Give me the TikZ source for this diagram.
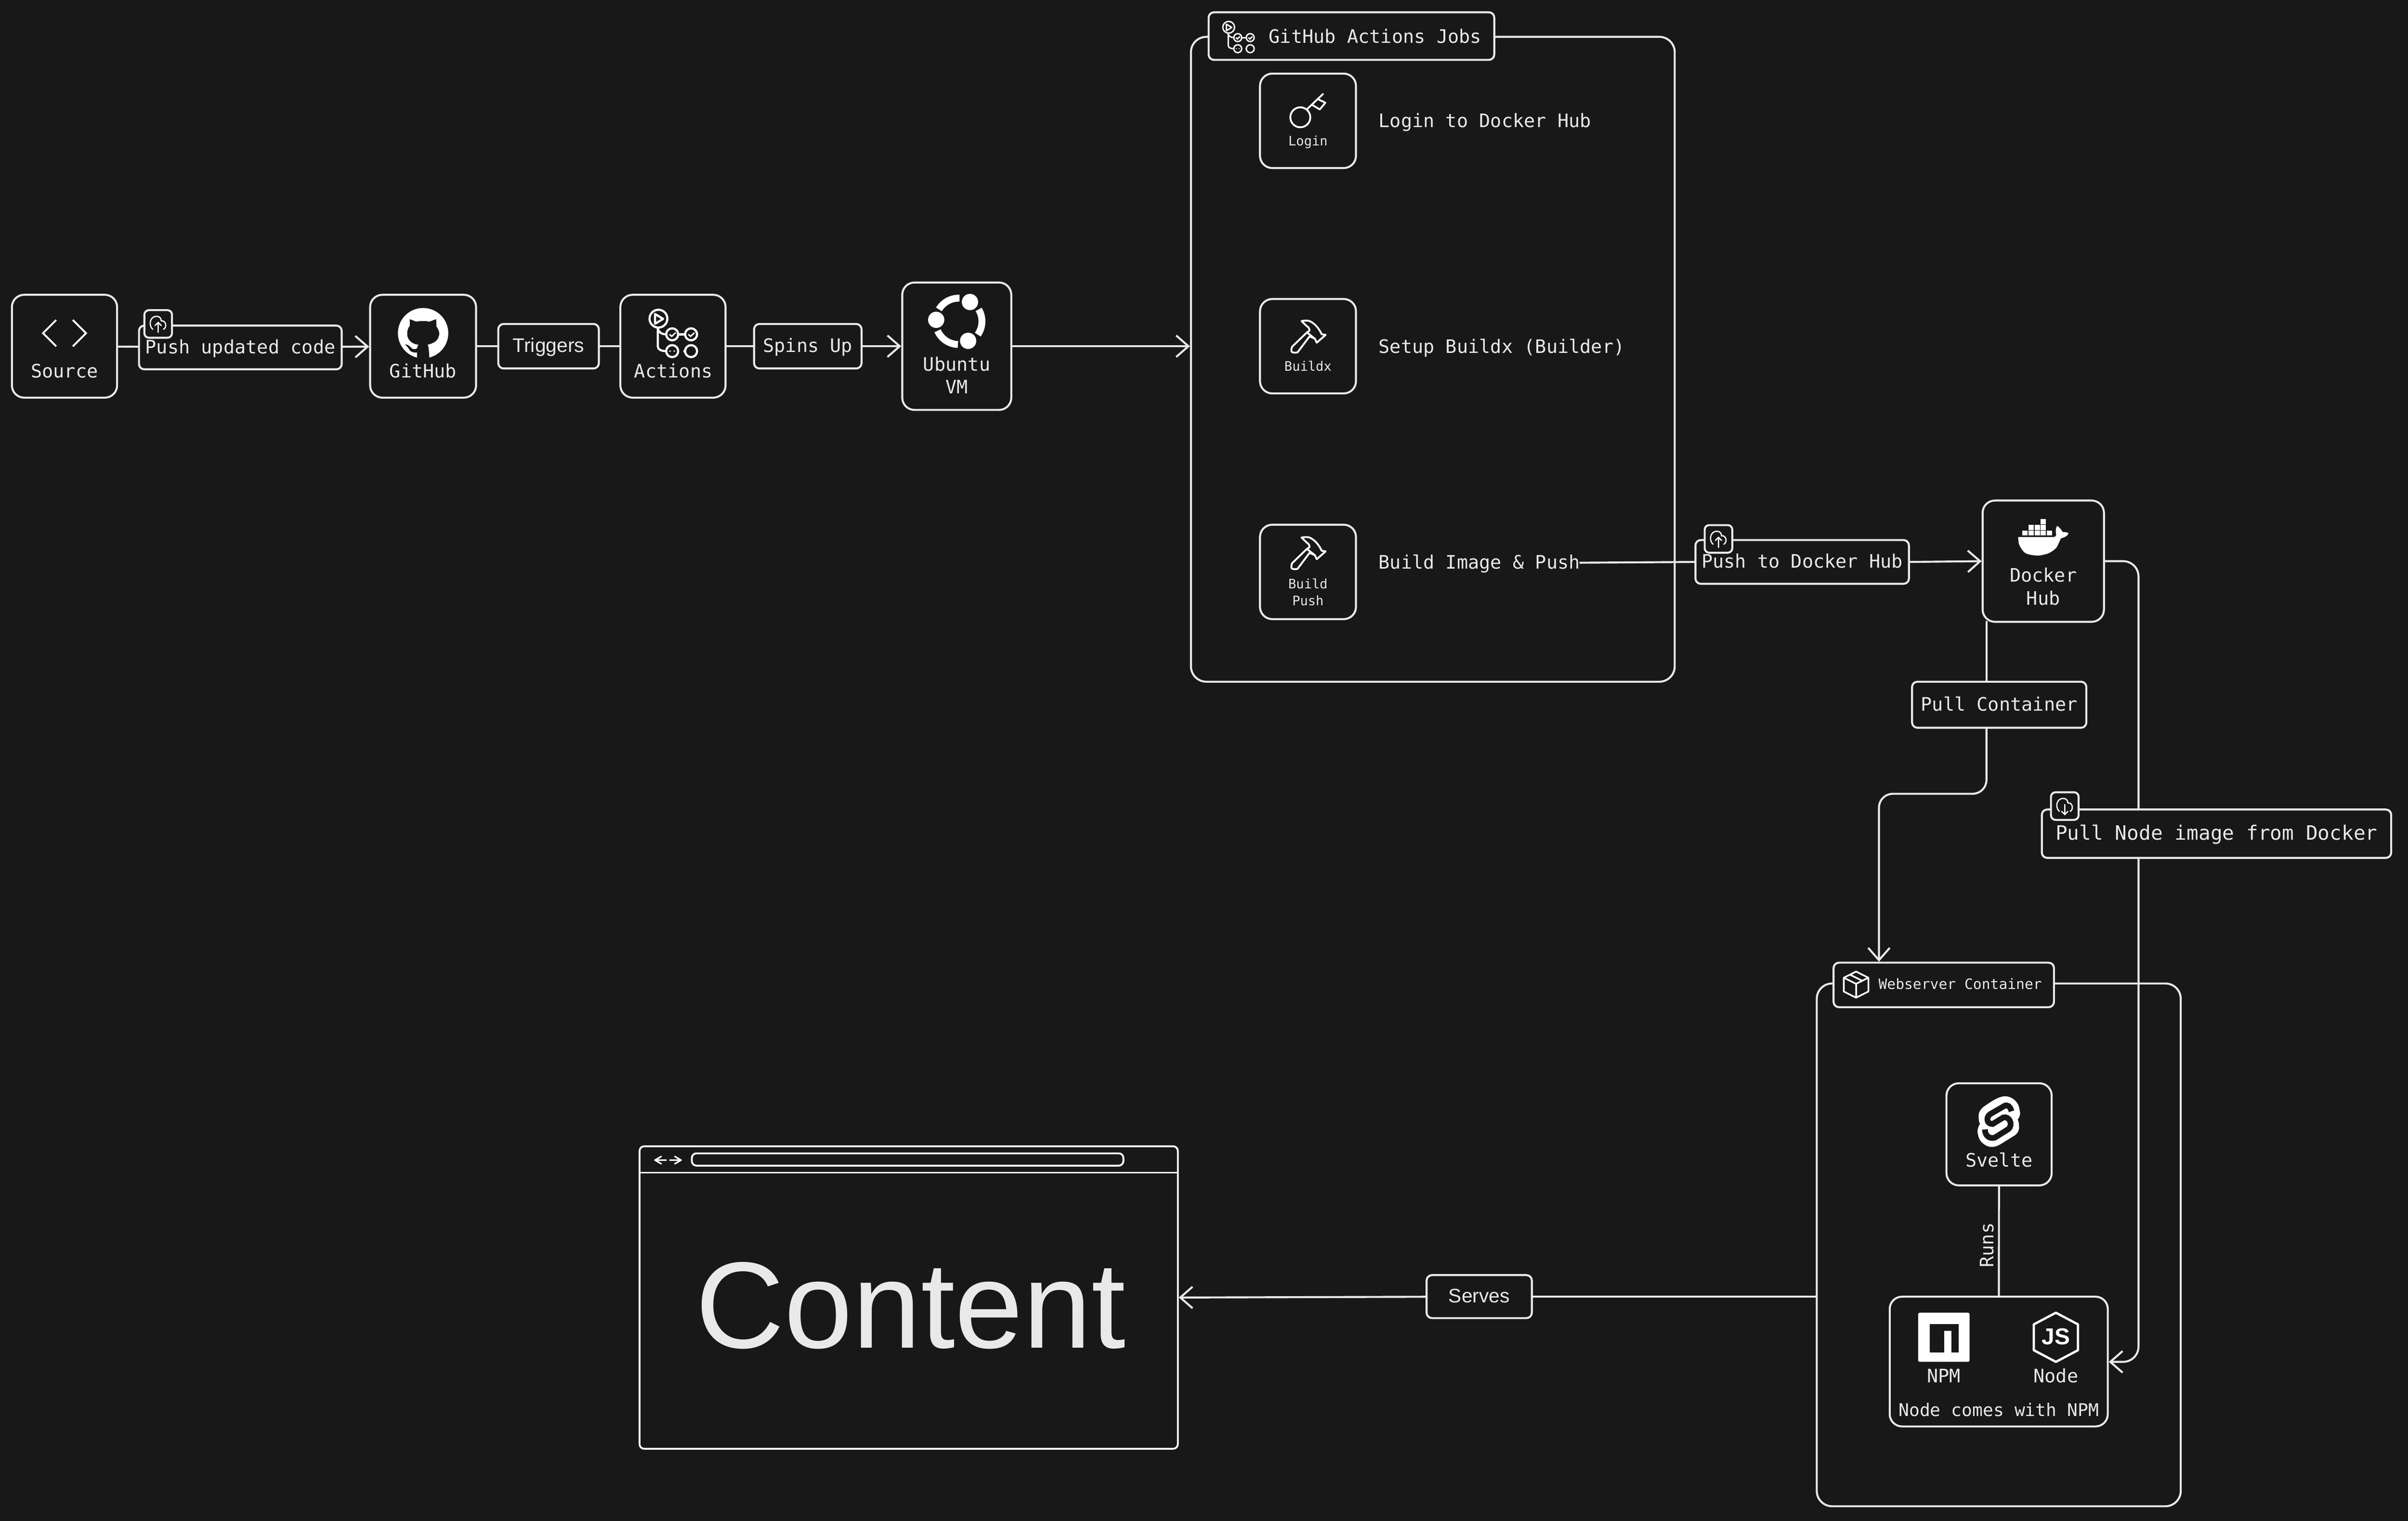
\documentclass[tikz,border=0pt]{standalone}
\usepackage{fontspec}
\usetikzlibrary{arrows.meta}
\newfontfamily\monotype{DejaVu Sans Mono}
\newfontfamily\plainsans{Liberation Sans}
\definecolor{canvas}{HTML}{181818}
\definecolor{chalk}{HTML}{E9E9E9}

\begin{document}
\begin{tikzpicture}[x=1pt,y=-1pt]
		\tikzset{card/.style = {draw=chalk, fill=canvas, line width=1.3pt, rounded corners=8pt, inner sep=0pt}}
		\tikzset{groupbox/.style = {draw=chalk, fill=canvas, line width=1.3pt, rounded corners=10pt, inner sep=0pt}}
		\tikzset{chip/.style = {draw=chalk, fill=canvas, line width=1.3pt, rounded corners=3.5pt, inner sep=0pt, text=chalk, text height=10.5pt, text depth=2.5pt, font=\fontsize{12.1}{15}\monotype}}
		\tikzset{badge/.style = {draw=chalk, fill=canvas, line width=1.3pt, rounded corners=3pt, inner sep=0pt, minimum width=18pt, minimum height=18pt}}
		\tikzset{caption/.style = {text=chalk, inner sep=0pt, align=center, text height=10.5pt, text depth=2.5pt, font=\fontsize{12.1}{15}\monotype}}
		\tikzset{tinycaption/.style = {caption, text height=6.5pt, text depth=2pt, font=\fontsize{8.5}{11}\monotype}}
		\tikzset{link/.style = {draw=chalk, line width=1.3pt, line cap=round}}
		\tikzset{edge/.style = {link, -{Straight Barb[length=8pt,width=14pt]}}}

		% icons, drawn round their own centre
		\tikzset{codeicon/.pic = {
			\draw[white, line width=1.2pt] (-5.4,-8.6) -- (-14,0) -- (-5.4,8.6);
			\draw[white, line width=1.2pt] (5.4,-8.6) -- (14,0) -- (5.4,8.6);
		}}
		\tikzset{cloudup/.pic = {
			\draw[white, line width=.8pt, line cap=round] (-3.5,3.5) .. controls (-6.5,1) and (-5.5,-5) .. (-1,-5) .. controls (1,-5) and (2,-3.5) .. (2,-2) .. controls (5,-2.5) and (6,2) .. (3.5,3.5);
			\draw[white, line width=.8pt, line cap=round] (0,5.5) -- (0,-1) (-2,1) -- (0,-1) -- (2,1);
		}}
		\tikzset{clouddown/.pic = {
			\draw[white, line width=.8pt, line cap=round] (-3.5,3.5) .. controls (-6.5,1) and (-5.5,-5) .. (-1,-5) .. controls (1,-5) and (2,-3.5) .. (2,-2) .. controls (5,-2.5) and (6,2) .. (3.5,3.5);
			\draw[white, line width=.8pt, line cap=round] (0,-1) -- (0,5.5) (-2,3.5) -- (0,5.5) -- (2,3.5);
		}}
		\tikzset{octocat/.pic = {
			\fill[white] (0,0) circle[radius=16.4];
			\fill[canvas] (-8.7,-9.1) -- (-4.5,-7.5) .. controls (-2,-8) and (2,-8) .. (4.1,-7.5) -- (8.5,-9.1) -- (8.7,-4.3) .. controls (10.5,-2) and (11,1) .. (10.1,2.1) .. controls (9.5,5) and (7,6.5) .. (3,7.5) .. controls (3.5,9) and (3.8,10) .. (4.1,16.8) -- (-3.9,16.8) -- (-3.9,12.6) .. controls (-6.5,12.8) and (-8,12) .. (-8.8,11) .. controls (-9.5,9.5) and (-10.5,8.5) .. (-11.8,7.4) .. controls (-9.8,7) and (-8.5,9) .. (-6.8,10.3) .. controls (-5.8,10.6) and (-4.6,10.4) .. (-3.9,9.8) .. controls (-3.7,9) and (-3.4,8) .. (-3,7.5) .. controls (-6,7.3) and (-9,5.5) .. (-10,2.6) .. controls (-10.6,1) and (-10.6,-2.5) .. (-8.7,-4.7) -- cycle;
		}}
		\tikzset{actionsicon/.pic = {
			\draw[white] (-9.75,-9.45) circle[radius=5.8];
			\draw[white, line join=round] (-12,-12.5) -- (-12,-6.1) -- (-6.7,-9.3) -- cycle;
			\foreach \cx/\cy in {-.8/.75, 11.5/.75, -.8/11.7, 11.5/11.7}
				\draw[white] (\cx,\cy) circle[radius=3.9];
			\draw[white] (-10.2,-3.6) -- (-10.2,8.5) .. controls (-10.2,10.5) and (-8,11.7) .. (-4.7,11.7);
			\draw[white] (-10.2,-3) .. controls (-9.8,-1) and (-8,.75) .. (-4.7,.75);
			\draw[white] (3.1,.75) -- (7.6,.75) (6.6,11.7) -- (7.6,11.7);
			\foreach \cx in {-.8, 11.5}
				\draw[white, line width=.9pt] (\cx-1.8,.75) -- (\cx-.3,2.1) -- (\cx+2.2,-.35);
			\fill[white] (-2.2,11.7) circle[radius=.6] (.55,11.7) circle[radius=.6];
		}}
		\tikzset{ubuntuicon/.pic = {
			\foreach \from/\to in {-31/35, 92/156, 211/272}
				\draw[white, line width=4.5pt] plot[domain=\from:\to, samples=16] ({15.1*cos(\x)},{15.1*sin(\x)});
			\foreach \cx/\cy in {7.3/-12.6, -14.7/-1, 6.1/12.7}
				\fill[white] (\cx,\cy) circle[radius=5.3];
		}}
		\tikzset{keyicon/.pic = {
			\draw[white, line width=1.2pt] (-4.3,4.4) circle[radius=6.5];
			\draw[white, line width=1.2pt, line cap=round] (.2,-1) -- (10.5,-10.8);
			\draw[white, line width=1.2pt, line join=round] (7,-7.5) -- (12,-5.1) -- (8.4,-.7) -- (3.4,-3.7);
		}}
		\tikzset{hammericon/.pic = {
			\draw[white, line width=1.2pt, line join=round] (-3.5,-9.9) .. controls (-1,-10.3) and (.5,-10.3) .. (1.7,-9.9) .. controls (5,-8.5) and (8,-5) .. (9.6,-1.3) -- (12.2,-.9) -- (6.4,4.2) -- (5.2,1.6) -- (1.7,.1) -- (-6.1,10.5) .. controls (-8,11) and (-10,10.6) .. (-10.1,9.8) .. controls (-10.2,8.5) and (-10,7.5) .. (-9.6,6.8) -- (0,-2.5) -- (1.7,-3.6) .. controls (1.7,-5) and (1,-6) .. (0,-6.5) -- cycle;
			\draw[white, line width=1.2pt] (0,-2.5) -- (5.2,1.6);
		}}
		\tikzset{whaleicon/.pic = {
			\fill[white] (-15.9,.8) -- (7,.8) .. controls (8.5,.6) and (9.2,.3) .. (8.7,-1.9) .. controls (8.4,-4) and (8.8,-5.5) .. (9.6,-6.5) .. controls (11,-5.5) and (12,-4.3) .. (13.2,-2.4) .. controls (14.5,-2.6) and (15.8,-2.3) .. (16.9,-1.8) .. controls (16.5,-.3) and (15.5,.6) .. (11.9,1.7) .. controls (10.5,5) and (9.5,7) .. (9.1,7.6) .. controls (6.5,10.5) and (3,12) .. (.9,12.2) .. controls (-1,12.9) and (-3,12.9) .. (-4.5,12.8) .. controls (-8,12.5) and (-10.5,11.8) .. (-11.8,10.8) .. controls (-14,8.5) and (-15,6.5) .. (-15.5,4.9) -- cycle;
			\foreach \cx/\cy in {-1.2/-10.9, -9.2/-7.1, -5.2/-7.1, -1.2/-7.1, -13.2/-3.5, -9.2/-3.5, -5.2/-3.5, -1.2/-3.5, 2.8/-3.5}
				\fill[white] (\cx,\cy) rectangle ++(3.5,3.3);
		}}
		\tikzset{boxicon/.pic = {
			\draw[white, line width=1.1pt, line join=round] (0,-8.5) -- (8,-4.5) -- (8,4.5) -- (0,8.5) -- (-8,4.5) -- (-8,-4.5) -- cycle;
			\draw[white, line width=1.1pt, line join=round] (-8,-4.5) -- (0,-.5) -- (8,-4.5) (0,-.5) -- (0,8.5) (-4,-6.5) -- (4,-2.5);
		}}
		\tikzset{svelteicon/.pic = {
			\fill[white] (3.5,-16.6) .. controls (-1,-16) and (-5,-13) .. (-8.8,-10.5) .. controls (-12,-8.5) and (-13.5,-5.5) .. (-13.1,-2.7) .. controls (-13,-.5) and (-12.7,.5) .. (-12.2,1.4) .. controls (-14,4) and (-14,7) .. (-13.6,8) .. controls (-13,11) and (-12,12.8) .. (-10.7,13.7) .. controls (-8.5,15.8) and (-6,16.6) .. (-3.8,16.4) .. controls (-2,16.2) and (-.5,15.6) .. (1.2,14.6) -- (10.7,8.7) .. controls (12.8,7) and (13.6,4.5) .. (13.2,2.7) .. controls (13.2,1) and (12.8,-.5) .. (12.3,-1.4) .. controls (14,-3.5) and (14.2,-6) .. (13.7,-6.8) .. controls (13.4,-10) and (12.2,-12.5) .. (10.7,-13.7) .. controls (9,-15.6) and (6,-16.8) .. (3.5,-16.6) -- cycle;
			\draw[canvas, line width=3.7pt] (8.3,-6.8) .. controls (7.5,-10) and (5.5,-11.5) .. (3.5,-10.2) -- (-5.5,-5) .. controls (-8.5,-3) and (-8,1.5) .. (-4,1.5) -- (3,-2.8) .. controls (7,-3.8) and (9.5,2) .. (6.3,4.8) -- (-2.5,10.3) .. controls (-6,11.5) and (-9,9) .. (-9,5);
		}}
		\tikzset{npmicon/.pic = {
			\fill[white, rounded corners=1pt] (-16.7,-16) rectangle (16.8,16);
			\fill[canvas] (-9.2,-8.7) rectangle (9.7,10);
			\fill[white] (.3,-4.2) rectangle (5,10);
		}}
		\tikzset{nodeicon/.pic = {
			\draw[white, line width=1.5pt, line join=round] (0,-16) -- (14.4,-8.4) -- (14.4,8.4) -- (0,16) -- (-14.4,8.4) -- (-14.4,-8.4) -- cycle;
			\node[text=white, inner sep=0pt, font=\fontsize{15}{15}\plainsans\bfseries] (jslogo) at (0,-.5) {JS};
		}}

		\fill[canvas] (0,0) rectangle (1568,990.5);

		% top row
		\node[card, minimum width=68.5pt, minimum height=67pt]   (source)   at (42,225.5)    {};
		\node[chip, minimum width=132pt, minimum height=28.5pt]  (pushcode) at (156.5,226.3)  {Push updated code};
		\node[card, minimum width=69pt, minimum height=67pt]     (github)   at (275.5,225.5)  {};
		\node[chip, minimum width=65.5pt, minimum height=29pt, font=\fontsize{12.8}{15}\plainsans] (triggers) at (357.2,225.5) {Triggers};
		\node[card, minimum width=68.5pt, minimum height=67pt]   (actions)  at (438.2,225.5)  {};
		\node[chip, minimum width=70pt, minimum height=29pt]     (spinsup)  at (526,225.5)    {Spins Up};
		\node[card, minimum width=71pt, minimum height=83pt]     (ubuntu)   at (623,225.5)    {};

		% jobs
		\node[groupbox, minimum width=315pt, minimum height=420pt] (jobs) at (933,234)  {};
		\node[chip, minimum width=186pt, minimum height=31pt]    (jobstitle) at (880,23.5) {};
		\node[card, minimum width=62.5pt, minimum height=61.5pt] (login)     at (851.7,78.7)  {};
		\node[card, minimum width=62.5pt, minimum height=61.5pt] (buildx)    at (851.7,225.5) {};
		\node[card, minimum width=62.5pt, minimum height=61.5pt] (buildpush) at (851.7,372.5) {};
		\node[caption, anchor=west] (jobstext)  at (826,24)    {GitHub Actions Jobs};
		\node[caption, anchor=west] (logintext) at (897.5,79)  {Login to Docker Hub};
		\node[caption, anchor=west] (setuptext) at (897.5,226) {Setup Buildx (Builder)};
		\node[caption, anchor=west] (pushtext)  at (897.5,366.5) {Build Image \& Push};

		% registry
		\node[chip, minimum width=139pt, minimum height=28.5pt]  (pushhub) at (1173.5,366)  {Push to Docker Hub};
		\node[card, minimum width=79pt, minimum height=79pt]     (docker)  at (1330.5,365.5) {};
		\node[chip, minimum width=113.5pt, minimum height=30pt]  (pullcontainer) at (1301.8,459) {Pull Container};
		\coordinate (pulltop)  at (1293.5,405);
		\coordinate (pullturn) at (1223.5,517);
		\coordinate (nodeturn) at (1392.5,887);

		% webserver
		\node[groupbox, minimum width=237pt, minimum height=340.5pt] (webframe) at (1301.5,810.8) {};
		\node[chip, minimum width=143.5pt, minimum height=29pt]  (webtitle) at (1265.7,641.5) {};
		\node[card, minimum width=68.5pt, minimum height=66.5pt] (svelte)   at (1301.7,738.8) {};
		\node[card, minimum width=142pt, minimum height=84.5pt]  (nodebox)  at (1301.5,886.8) {};
		\node[tinycaption, anchor=west, font=\fontsize{9.3}{11}\monotype] (webtext) at (1223,642) {Webserver Container};

		% browser
		\node[draw=white, fill=canvas, line width=1.2pt, rounded corners=3pt, inner sep=0pt, minimum width=350.5pt, minimum height=197pt] (browser) at (591.7,845.1) {};
		\node[draw=white, fill=canvas, line width=1.2pt, rounded corners=3pt, inner sep=0pt, minimum width=281pt, minimum height=8pt] (addressbar) at (591,755.2) {};
		\coordinate (barleft)  at (416.5,763.8);
		\coordinate (barright) at (767,763.8);
		\node[text=chalk, inner sep=0pt, text height=58pt, text depth=1pt, font=\fontsize{80}{80}\plainsans] (content) at (593,849.5) {Content};
		\node[chip, minimum width=68.5pt, minimum height=28pt, font=\fontsize{12.8}{15}\plainsans] (serves) at (963.2,844.5) {Serves};

		% connectors
		\draw[link] (source) to (pushcode);
		\draw[edge] (pushcode) to (github);
		\draw[link] (github) to (triggers);
		\draw[link] (triggers) to (actions);
		\draw[link] (actions) to (spinsup);
		\draw[edge] (spinsup) to (ubuntu);
		\draw[edge] (ubuntu.east) to (jobs.west |- ubuntu.east);
		\draw[link] (pushtext.east) to (pushhub.west);
		\draw[edge] (pushhub.east) to (docker.west);
		\draw[link] (pulltop) to (pullcontainer.north -| pulltop);
		\draw[edge, rounded corners=9pt] (pullcontainer.south -| pulltop) |- (pullturn) -- (webtitle.north -| pullturn);
		\draw[edge, rounded corners=10pt] (docker.east) -| (nodeturn) -- (nodebox.east |- nodeturn);
		\draw[link] (svelte) to (nodebox);
		\draw[edge] (serves) to (browser.east);
		\draw[link] (webframe.west |- serves) to (serves);
		\draw[white, line width=1pt] (barleft) to (barright);
		\node[chip, minimum width=227.5pt, minimum height=31.5pt, font=\fontsize{12.9}{15}\monotype] (pullnode) at (1443.3,543) {Pull Node image from Docker};

		% badges over their labels
		\node[badge] (pushbadge) at (103,211) {};
		\node[badge] (hubbadge)  at (1119,351) {};
		\node[badge] (nodebadge) at (1344.5,525) {};

		% card texts
		\node[caption] (sourcetext)  at (42,242)     {Source};
		\node[caption] (githubtext)  at (275.5,242)  {GitHub};
		\node[caption] (actionstext) at (438.5,242)  {Actions};
		\node[caption] (ubuntutext)  at (623,252.5)  {Ubuntu\\VM};
		\node[tinycaption] (logincap)  at (851.7,92.5)  {Login};
		\node[tinycaption] (buildxcap) at (851.7,239.5) {Buildx};
		\node[tinycaption] (buildcap)  at (851.7,392)   {Build\\Push};
		\node[caption] (dockertext) at (1330.5,390) {Docker\\Hub};
		\node[caption] (sveltetext) at (1301.7,756) {Svelte};
		\node[caption] (npmtext)    at (1265.7,896.5) {NPM};
		\node[caption] (nodetext)   at (1338.7,896.5) {Node};
		\node[caption, font=\fontsize{11.4}{12}\monotype] (nodenote) at (1301.5,918.5) {Node comes with NPM};
		\node[caption, rotate=90] (runs) at (1294,811) {Runs};

		% icons
		\pic at (42,217) {codeicon};
		\pic at (103,211) {cloudup};
		\pic at (1119,351) {cloudup};
		\pic at (1344.5,525) {clouddown};
		\pic at (275.5,217) {octocat};
		\pic[line width=1.4pt] at (438.5,217) {actionsicon};
		\pic[line width=.9pt, scale=.66] at (806.5,24) {actionsicon};
		\pic at (624.3,209.3) {ubuntuicon};
		\pic at (851,72) {keyicon};
		\pic at (851,219) {hammericon};
		\pic at (851,360) {hammericon};
		\pic at (1330,349) {whaleicon};
		\pic at (1208.6,641.3) {boxicon};
		\pic at (1301.5,730.6) {svelteicon};
		\pic at (1265.7,871) {npmicon};
		\pic at (1338.7,871) {nodeicon};

		% browser arrows
		\draw[white, line width=1pt, line cap=round, line join=round] (433.8,755.6) -- (426.5,755.6) (430.6,753.2) -- (426.5,755.6) -- (430.6,758);
		\draw[white, line width=1pt, line cap=round, line join=round] (436.2,755.6) -- (443.5,755.6) (439.4,753.2) -- (443.5,755.6) -- (439.4,758);
		\end{tikzpicture}
\end{document}
